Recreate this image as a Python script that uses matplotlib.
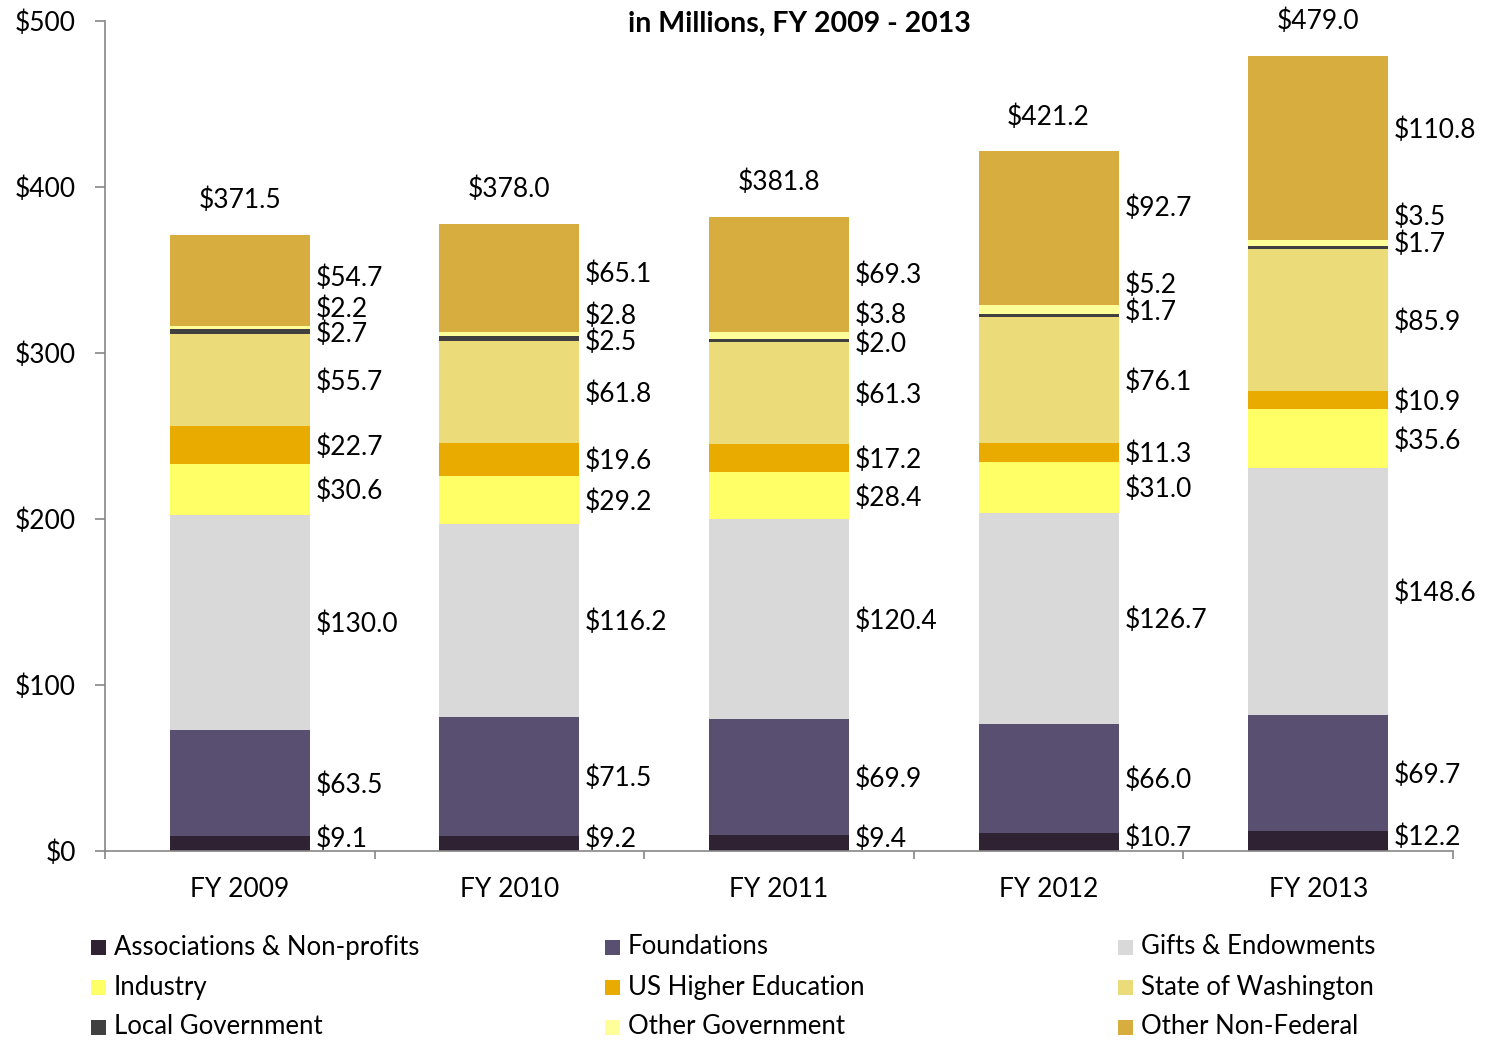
import matplotlib
matplotlib.use('Agg')
import matplotlib.pyplot as plt
from matplotlib.patches import Rectangle
from matplotlib.ticker import FixedLocator, FuncFormatter

plt.rcParams['font.family'] = ['Lato', 'DejaVu Sans']

years = ['FY 2009', 'FY 2010', 'FY 2011', 'FY 2012', 'FY 2013']
assoc = [9.1, 9.2, 9.4, 10.7, 12.2]
foundations = [63.5, 71.5, 69.9, 66.0, 69.7]
gifts = [130.0, 116.2, 120.4, 126.7, 148.6]
industry = [30.6, 29.2, 28.4, 31.0, 35.6]
us_higher_ed = [22.7, 19.6, 17.2, 11.3, 10.9]
state_wa = [55.7, 61.8, 61.3, 76.1, 85.9]
local_gov = [2.7, 2.5, 2.0, 1.7, 1.7]
other_gov = [2.2, 2.8, 3.8, 5.2, 3.5]
other_nonfed = [54.7, 65.1, 69.3, 92.7, 110.8]
totals = [371.5, 378.0, 381.8, 421.2, 479.0]

names = ['Associations & Non-profits', 'Foundations', 'Gifts & Endowments',
         'Industry', 'US Higher Education', 'State of Washington',
         'Local Government', 'Other Government', 'Other Non-Federal']
values = [assoc, foundations, gifts, industry, us_higher_ed, state_wa,
          local_gov, other_gov, other_nonfed]
colors = ['#2e2233', '#595071', '#d9d9d9', '#ffff66', '#eaab00', '#ecdc79',
          '#404040', '#ffff99', '#d8ad40']

# vertical nudges (pixels, negative = up) for crowded labels
nudge = {
    0: [-6, -6, -6, -6, -6],
    6: [1, 2, 2, -5, -5],
    7: [-20, -20, -22, -26, -28],
    8: [-4, -5, -2, -22, -20],
}

FS = 19
fig = plt.figure(figsize=(14.94, 10.42), dpi=100)
ax = fig.add_axes([105 / 1494, 1 - 851 / 1042, (1453 - 105) / 1494, (851 - 21) / 1042])

w = 0.52
x = list(range(len(years)))
bottom = [0.0] * len(years)
for k, (vals, c) in enumerate(zip(values, colors)):
    ax.bar(x, vals, width=w, bottom=bottom, color=c, edgecolor='none', zorder=2)
    for i in x:
        center = bottom[i] + vals[i] / 2
        dy = -(nudge.get(k, [0] * 5)[i] + 2) * 0.72
        ax.annotate('$%.1f' % vals[i], xy=(i + w / 2, center), xytext=(4, dy),
                    textcoords='offset points', ha='left', va='center', fontsize=FS)
    bottom = [b + v for b, v in zip(bottom, vals)]

for i in x:
    ax.annotate('$%.1f' % totals[i], xy=(i, bottom[i]), xytext=(0, 25),
                textcoords='offset points', ha='center', va='center', fontsize=FS)

ax.set_xlim(-0.5, len(years) - 0.5)
ax.set_ylim(0, 500)
ax.set_yticks([0, 100, 200, 300, 400, 500])
ax.yaxis.set_major_formatter(FuncFormatter(lambda v, p: '$%d' % v))
ax.set_xticks(x)
ax.set_xticklabels(years)
ax.xaxis.set_minor_locator(FixedLocator([i - 0.5 for i in range(len(years) + 1)]))
ax.tick_params(axis='x', which='major', length=0, pad=19, labelsize=FS)
ax.tick_params(axis='x', which='minor', length=6, color='#868686', width=1.2)
ax.tick_params(axis='y', length=7, color='#868686', width=1.2, pad=14, labelsize=FS)
for s in ['top', 'right']:
    ax.spines[s].set_visible(False)
for s in ['left', 'bottom']:
    ax.spines[s].set_color('#868686')
    ax.spines[s].set_linewidth(1.2)

fig.text(799.5 / 1494, 1 - 24 / 1042, 'in Millions, FY 2009 - 2013',
         ha='center', va='center', fontsize=20.5, fontweight='bold')

# legend, three rows by three columns
col_x = [91, 605, 1118]
row_y = [947, 987, 1027]
for k, (name, c) in enumerate(zip(names, colors)):
    r, cidx = divmod(k, 3)
    px, py = col_x[cidx], row_y[r]
    fig.patches.append(Rectangle((px / 1494, 1 - (py + 7.5) / 1042), 15 / 1494, 15 / 1042,
                                 transform=fig.transFigure, facecolor=c, edgecolor='none'))
    fig.text((px + 23) / 1494, 1 - py / 1042, name, ha='left', va='center', fontsize=18.5)

fig.savefig('out.png', dpi=100)
